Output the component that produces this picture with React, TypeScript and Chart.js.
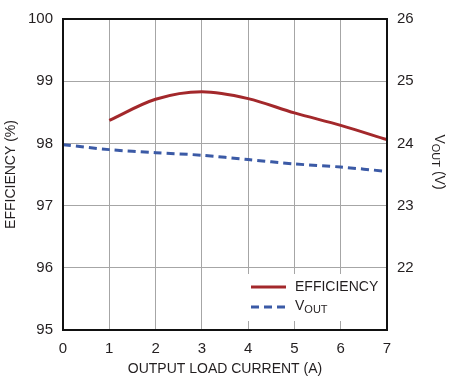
import React, { useEffect, useRef } from "react";
import { Chart, registerables } from "chart.js";

Chart.register(...registerables);

const currents = [0, 1, 2, 3, 4, 5, 6, 7];
const effX = [1, 2, 3, 4, 5, 6, 7];
const efficiency = [98.37, 98.71, 98.83, 98.72, 98.49, 98.29, 98.06];
const vout = [23.98, 23.9, 23.85, 23.81, 23.74, 23.67, 23.62, 23.55];
const leftTicks = [95, 96, 97, 98, 99, 100];
const rightTicks = [22, 23, 24, 25, 26];

const FONT = '"Liberation Sans", Arial, Helvetica, sans-serif';
const TEXT = "#231f20";
const RED = "#a3282b";
const BLUE = "#3b5aa6";

const overlay = {
  id: "overlay",
  afterDraw(chart: any) {
    const ctx = chart.ctx as CanvasRenderingContext2D;
    const a = chart.chartArea;
    ctx.save();
    // frame
    ctx.strokeStyle = "#111111";
    ctx.lineWidth = 2;
    ctx.strokeRect(a.left, a.top, a.right - a.left, a.bottom - a.top);

    ctx.fillStyle = TEXT;
    ctx.font = `14px ${FONT}`;
    // x title
    ctx.textAlign = "center";
    ctx.textBaseline = "middle";
    ctx.fillText("OUTPUT LOAD CURRENT (A)", (a.left + a.right) / 2, 369);
    // left title
    ctx.save();
    ctx.translate(11, (a.top + a.bottom) / 2);
    ctx.rotate(-Math.PI / 2);
    ctx.fillText("EFFICIENCY (%)", 0, 0);
    ctx.restore();
    // right title with subscript
    ctx.save();
    ctx.translate(439, 162);
    ctx.rotate(Math.PI / 2);
    ctx.textAlign = "left";
    ctx.font = `14px ${FONT}`;
    const wV = ctx.measureText("V").width;
    ctx.font = `11px ${FONT}`;
    const wO = ctx.measureText("OUT").width;
    ctx.font = `14px ${FONT}`;
    const wR = ctx.measureText(" (V)").width;
    let x0 = -(wV + wO + wR) / 2;
    ctx.fillText("V", x0, 0);
    ctx.font = `11px ${FONT}`;
    ctx.fillText("OUT", x0 + wV, 4);
    ctx.font = `14px ${FONT}`;
    ctx.fillText(" (V)", x0 + wV + wO, 0);
    ctx.restore();

    // legend
    ctx.fillStyle = "#ffffff";
    ctx.fillRect(241, 274, 144, 47);
    ctx.lineWidth = 3;
    ctx.strokeStyle = RED;
    ctx.beginPath();
    ctx.moveTo(251, 287);
    ctx.lineTo(286, 287);
    ctx.stroke();
    ctx.strokeStyle = BLUE;
    ctx.setLineDash([8, 5]);
    ctx.beginPath();
    ctx.moveTo(251, 307);
    ctx.lineTo(286, 307);
    ctx.stroke();
    ctx.setLineDash([]);
    ctx.fillStyle = TEXT;
    ctx.textAlign = "left";
    ctx.textBaseline = "middle";
    ctx.font = `14px ${FONT}`;
    ctx.fillText("EFFICIENCY", 295, 287);
    ctx.fillText("V", 295, 306);
    const vw = ctx.measureText("V").width;
    ctx.font = `11px ${FONT}`;
    ctx.fillText("OUT", 295 + vw, 310);
    ctx.restore();
  },
};

export default function App() {
  const ref = useRef<HTMLCanvasElement>(null);
  useEffect(() => {
    document.body.style.margin = "0";
    const chart = new Chart(ref.current as HTMLCanvasElement, {
      type: "line",
      data: {
        datasets: [
          {
            label: "EFFICIENCY",
            data: effX.map((x, i) => ({ x, y: efficiency[i] })),
            borderColor: RED,
            borderWidth: 3,
            pointRadius: 0,
            cubicInterpolationMode: "monotone",
            yAxisID: "y",
          },
          {
            label: "VOUT",
            data: currents.map((x, i) => ({ x, y: vout[i] })),
            borderColor: BLUE,
            borderWidth: 3,
            borderDash: [8, 5],
            pointRadius: 0,
            tension: 0.3,
            yAxisID: "y2",
          },
        ],
      },
      options: {
        animation: false,
        responsive: false,
        layout: { padding: { top: 6, left: 0, right: 0, bottom: 0 } },
        plugins: { legend: { display: false }, tooltip: { enabled: false } },
        scales: {
          x: {
            type: "linear",
            min: 0,
            max: 7,
            afterFit: (s: any) => {
              s.height = 50;
            },
            afterBuildTicks: (s: any) => {
              s.ticks = currents.map((v) => ({ value: v }));
            },
            ticks: { color: TEXT, font: { size: 15, family: FONT }, padding: 10, maxRotation: 0 },
            grid: { color: "#a6a6a6", lineWidth: 1, drawTicks: false },
            border: { display: false },
          },
          y: {
            position: "left",
            min: 95,
            max: 100,
            afterFit: (s: any) => {
              s.width = 63;
            },
            afterBuildTicks: (s: any) => {
              s.ticks = leftTicks.map((v) => ({ value: v }));
            },
            ticks: { color: TEXT, font: { size: 15, family: FONT }, padding: 10 },
            grid: { color: "#a6a6a6", lineWidth: 1, drawTicks: false },
            border: { display: false },
          },
          y2: {
            position: "right",
            min: 21,
            max: 26,
            afterFit: (s: any) => {
              s.width = 63;
            },
            afterBuildTicks: (s: any) => {
              s.ticks = rightTicks.map((v) => ({ value: v }));
            },
            ticks: { color: TEXT, font: { size: 15, family: FONT }, padding: 10 },
            grid: { display: false, drawTicks: false },
            border: { display: false },
          },
        },
      } as any,
      plugins: [overlay],
    });
    return () => chart.destroy();
  }, []);
  return (
    <div style={{ width: 450, height: 380 }}>
      <canvas ref={ref} width={450} height={380} style={{ display: "block" }} />
    </div>
  );
}
